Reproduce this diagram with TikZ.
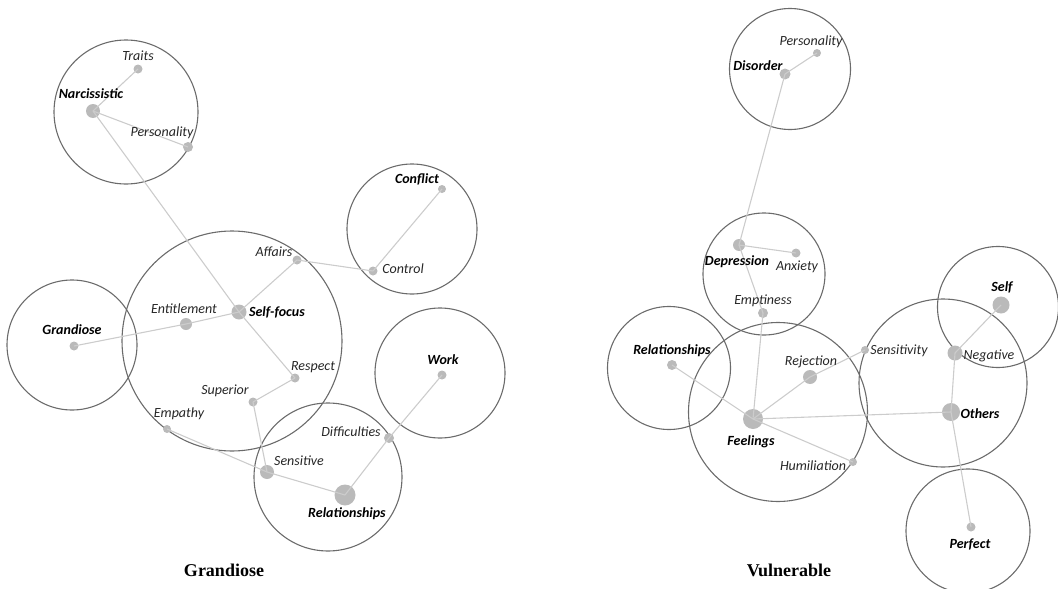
\documentclass[tikz,border=0pt]{standalone}
\usepackage{fontspec}
\setmainfont{Carlito}
\newfontfamily\titlefont{Liberation Serif}
\begin{document}
\begin{tikzpicture}[x=1pt,y=-1pt,
  cluster/.style={draw=black!58, line width=1.1pt, circle, inner sep=0pt, fill=none},
  dot/.style={circle, fill=black!27, inner sep=0pt, minimum size=#1},
  edge/.style={draw=black!20, line width=1.1pt},
  lab/.style={font=\fontsize{14}{16}\selectfont\itshape, text=black!85, inner sep=0pt},
  blab/.style={font=\fontsize{14}{16}\selectfont\bfseries\itshape, text=black, inner sep=0pt},
  ttl/.style={font=\fontsize{18}{20}\selectfont\titlefont\bfseries, inner sep=0pt}]
\useasboundingbox (0,0) rectangle (1058,589);
% ---------------- Grandiose ----------------
\node[cluster, minimum size=144pt] (cNarc) at (126,112) {};
\node[cluster, minimum size=130pt] (cConf) at (412,229) {};
\node[cluster, minimum size=220pt] (cSelf) at (232,341) {};
\node[cluster, minimum size=130pt] (cGran) at (72,345) {};
\node[cluster, minimum size=148pt] (cRel) at (328,477) {};
\node[cluster, minimum size=130pt] (cWork) at (440,373) {};

\node[dot=9pt] (gTraits) at (138,69) {};
\node[dot=14pt] (gNarc) at (93,111) {};
\node[dot=10pt] (gPers) at (188,147) {};
\node[dot=8pt] (gConf) at (442,189) {};
\node[dot=9pt] (gCtrl) at (373,271) {};
\node[dot=9pt] (gAff) at (297,260) {};
\node[dot=15pt] (gSelf) at (239,312) {};
\node[dot=12pt] (gEnt) at (186,324) {};
\node[dot=9pt] (gGran) at (74,346) {};
\node[dot=9pt] (gResp) at (295,378) {};
\node[dot=9pt] (gSup) at (253,402) {};
\node[dot=8pt] (gEmp) at (167,429) {};
\node[dot=14pt] (gSens) at (267,472) {};
\node[dot=21pt] (gRel) at (345,495) {};
\node[dot=10pt] (gDiff) at (389,438) {};
\node[dot=9pt] (gWork) at (442,375) {};

\draw[edge] (gNarc.center) -- (gTraits.center);
\draw[edge] (gNarc.center) -- (gPers.center);
\draw[edge] (gNarc.center) -- (gSelf.center);
\draw[edge] (gSelf.center) -- (gAff.center);
\draw[edge] (gAff.center) -- (gCtrl.center);
\draw[edge] (gCtrl.center) -- (gConf.center);
\draw[edge] (gSelf.center) -- (gEnt.center);
\draw[edge] (gEnt.center) -- (gGran.center);
\draw[edge] (gSelf.center) -- (gResp.center);
\draw[edge] (gResp.center) -- (gSup.center);
\draw[edge] (gSup.center) -- (gSens.center);
\draw[edge] (gEmp.center) -- (gSens.center);
\draw[edge] (gSens.center) -- (gRel.center);
\draw[edge] (gRel.center) -- (gDiff.center);
\draw[edge] (gDiff.center) -- (gWork.center);

\node[lab] (tTraits) at (138,56) {Traits};
\node[blab] (tNarc) at (91,94) {Narcissistic};
\node[lab] (tPers) at (162,133) {Personality};
\node[blab] (tConf) at (417,179) {Conflict};
\node[lab] (tCtrl) at (403,269) {Control};
\node[lab] (tAff) at (274,252) {Affairs};
\node[blab] (tSelf) at (277,312) {Self-focus};
\node[lab] (tEnt) at (184,309) {Entitlement};
\node[blab] (tGran) at (72,330) {Grandiose};
\node[lab] (tResp) at (313,367) {Respect};
\node[lab] (tSup) at (225,391) {Superior};
\node[lab] (tEmp) at (179,414) {Empathy};
\node[lab] (tSens) at (299,461) {Sensitive};
\node[blab] (tRel) at (347,514) {Relationships};
\node[lab] (tDiff) at (351,432) {Difficulties};
\node[blab] (tWork) at (443,360) {Work};
\node[ttl] (titleG) at (224,570) {Grandiose};

% ---------------- Vulnerable ----------------
\node[cluster, minimum size=121pt] (cDis) at (790,69) {};
\node[cluster, minimum size=122pt] (cDep) at (764,274) {};
\node[cluster, minimum size=123pt] (cVRel) at (669,368) {};
\node[cluster, minimum size=179pt] (cFeel) at (778,412) {};
\node[cluster, minimum size=168pt] (cOth) at (943,383) {};
\node[cluster, minimum size=121pt] (cVSelf) at (998,307) {};
\node[cluster, minimum size=124pt] (cPerf) at (968,531) {};

\node[dot=8pt] (vPers) at (817,53) {};
\node[dot=11pt] (vDis) at (785,74) {};
\node[dot=12pt] (vDep) at (739,245) {};
\node[dot=9pt] (vAnx) at (796,253) {};
\node[dot=10pt] (vEmpt) at (763,313) {};
\node[dot=10pt] (vRel) at (672,365) {};
\node[dot=20pt] (vFeel) at (753,419) {};
\node[dot=14pt] (vRej) at (810,377) {};
\node[dot=8pt] (vSens) at (865,350) {};
\node[dot=8pt] (vHum) at (853,462) {};
\node[dot=18pt] (vOth) at (951,412) {};
\node[dot=15pt] (vNeg) at (955,353) {};
\node[dot=17pt] (vSelf) at (1001,305) {};
\node[dot=9pt] (vPerf) at (971,527) {};

\draw[edge] (vDis.center) -- (vPers.center);
\draw[edge] (vDis.center) -- (vDep.center);
\draw[edge] (vDep.center) -- (vAnx.center);
\draw[edge] (vDep.center) -- (vEmpt.center);
\draw[edge] (vEmpt.center) -- (vFeel.center);
\draw[edge] (vFeel.center) -- (vRel.center);
\draw[edge] (vFeel.center) -- (vRej.center);
\draw[edge] (vRej.center) -- (vSens.center);
\draw[edge] (vFeel.center) -- (vHum.center);
\draw[edge] (vFeel.center) -- (vOth.center);
\draw[edge] (vOth.center) -- (vNeg.center);
\draw[edge] (vNeg.center) -- (vSelf.center);
\draw[edge] (vOth.center) -- (vPerf.center);

\node[lab] (uPers) at (811,42) {Personality};
\node[blab] (uDis) at (758,66) {Disorder};
\node[blab] (uDep) at (737,262) {Depression};
\node[lab] (uAnx) at (797,267) {Anxiety};
\node[lab] (uEmpt) at (763,301) {Emptiness};
\node[blab] (uRel) at (672,351) {Relationships};
\node[blab] (uFeel) at (751,442) {Feelings};
\node[lab] (uRej) at (811,362) {Rejection};
\node[lab] (uSens) at (899,351) {Sensitivity};
\node[lab] (uHum) at (813,466) {Humiliation};
\node[blab] (uOth) at (980,414) {Others};
\node[lab] (uNeg) at (989,356) {Negative};
\node[blab] (uSelf) at (1002,287) {Self};
\node[blab] (uPerf) at (970,544) {Perfect};
\node[ttl] (titleV) at (789,570) {Vulnerable};
\end{tikzpicture}
\end{document}
